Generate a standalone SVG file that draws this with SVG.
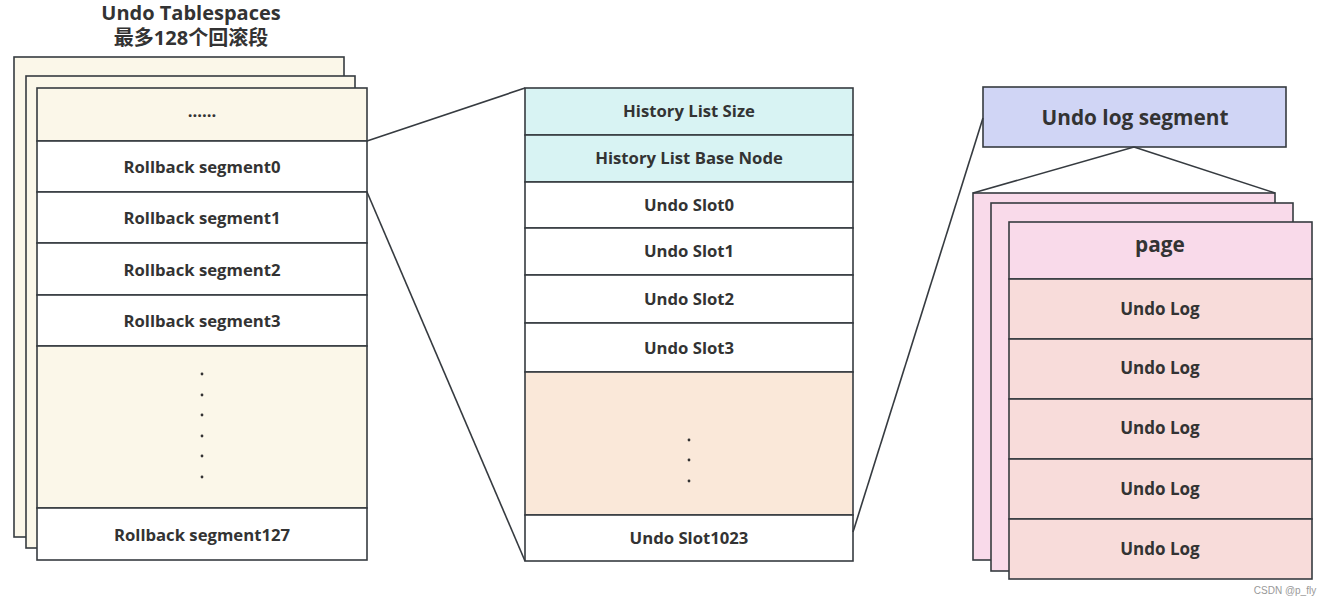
<svg xmlns="http://www.w3.org/2000/svg" width="1331" height="604" viewBox="0 0 1331 604">
<style>
.b{stroke:#363b40;stroke-width:1.6}
.cream{fill:#FBF7E9}
.white{fill:#ffffff}
.cyan{fill:#D8F3F3}
.orange{fill:#FAE8D9}
.blue{fill:#D0D5F5}
.pink{fill:#F9DAEA}
.rose{fill:#F8DCDA}
text{font-family:"Open Sans","Noto Sans CJK SC",sans-serif;font-weight:bold;fill:#333;text-anchor:middle}
.t15{font-size:16.7px}
.t17{font-size:17px}
.t19{font-size:20.8px}
.dot{fill:#333}
.ln{stroke:#363b40;stroke-width:1.6;fill:none}
</style>
<g id="title">
<text x="191" y="20" style="font-size:20px">Undo Tablespaces</text>
<text x="191" y="45" style="font-size:20px">最多128个回滚段</text>
</g>
<g id="rollback-stack">
<rect x="14" y="57" width="330" height="480" class="b cream"/>
<rect x="26" y="76" width="329" height="472" class="b cream"/>
<rect x="37" y="88" width="330" height="53" class="b cream"/>
<text x="202" y="117" class="t15">......</text>
<rect x="37" y="141" width="330" height="51" class="b white"/>
<text x="202" y="173" class="t15">Rollback segment0</text>
<rect x="37" y="192" width="330" height="51" class="b white"/>
<text x="202" y="224" class="t15">Rollback segment1</text>
<rect x="37" y="243" width="330" height="52" class="b white"/>
<text x="202" y="276" class="t15">Rollback segment2</text>
<rect x="37" y="295" width="330" height="51" class="b white"/>
<text x="202" y="327" class="t15">Rollback segment3</text>
<rect x="37" y="346" width="330" height="162" class="b cream"/>
<circle cx="202" cy="374" r="1.4" class="dot"/>
<circle cx="202" cy="395" r="1.4" class="dot"/>
<circle cx="202" cy="415" r="1.4" class="dot"/>
<circle cx="202" cy="436" r="1.4" class="dot"/>
<circle cx="202" cy="456" r="1.4" class="dot"/>
<circle cx="202" cy="477" r="1.4" class="dot"/>
<rect x="37" y="508" width="330" height="52" class="b white"/>
<text x="202" y="541" class="t15">Rollback segment127</text>
</g>
<g id="slot-table">
<rect x="525" y="88" width="328" height="47" class="b cyan"/>
<text x="689" y="117" class="t15">History List Size</text>
<rect x="525" y="135" width="328" height="47" class="b cyan"/>
<text x="689" y="164" class="t15">History List Base Node</text>
<rect x="525" y="182" width="328" height="46" class="b white"/>
<text x="689" y="211" class="t15">Undo Slot0</text>
<rect x="525" y="228" width="328" height="47" class="b white"/>
<text x="689" y="257" class="t15">Undo Slot1</text>
<rect x="525" y="275" width="328" height="48" class="b white"/>
<text x="689" y="305" class="t15">Undo Slot2</text>
<rect x="525" y="323" width="328" height="49" class="b white"/>
<text x="689" y="354" class="t15">Undo Slot3</text>
<rect x="525" y="372" width="328" height="143" class="b orange"/>
<circle cx="689" cy="440" r="1.4" class="dot"/>
<circle cx="689" cy="460" r="1.4" class="dot"/>
<circle cx="689" cy="481" r="1.4" class="dot"/>
<rect x="525" y="515" width="328" height="46" class="b white"/>
<text x="689" y="544" class="t15">Undo Slot1023</text>
</g>
<g id="undo-log-segment">
<rect x="983" y="87" width="303" height="60" class="b blue"/>
<text x="1135" y="125" class="t19">Undo log segment</text>
</g>
<g id="page-stack">
<rect x="973" y="193" width="302" height="367" class="b pink"/>
<rect x="991" y="203" width="302" height="368" class="b pink"/>
<rect x="1009" y="222" width="303" height="57" class="b pink"/>
<text x="1160" y="252" class="t19">page</text>
<rect x="1009" y="279" width="303" height="60" class="b rose"/>
<text x="1160" y="315" class="t17">Undo Log</text>
<rect x="1009" y="339" width="303" height="60" class="b rose"/>
<text x="1160" y="374" class="t17">Undo Log</text>
<rect x="1009" y="399" width="303" height="60" class="b rose"/>
<text x="1160" y="434" class="t17">Undo Log</text>
<rect x="1009" y="459" width="303" height="60" class="b rose"/>
<text x="1160" y="495" class="t17">Undo Log</text>
<rect x="1009" y="519" width="303" height="60" class="b rose"/>
<text x="1160" y="555" class="t17">Undo Log</text>
</g>
<g id="connectors">
<line x1="367" y1="141" x2="525" y2="88" class="ln"/>
<line x1="367" y1="192" x2="525" y2="561" class="ln"/>
<line x1="853" y1="532" x2="983" y2="118" class="ln"/>
<line x1="1134" y1="147" x2="973" y2="193" class="ln"/>
<line x1="1134" y1="147" x2="1275" y2="193" class="ln"/>
</g>
<text x="1285" y="594" style="font-family:'Liberation Sans',sans-serif;font-weight:normal;font-size:10px;fill:#999">CSDN @p_fly</text>
</svg>
